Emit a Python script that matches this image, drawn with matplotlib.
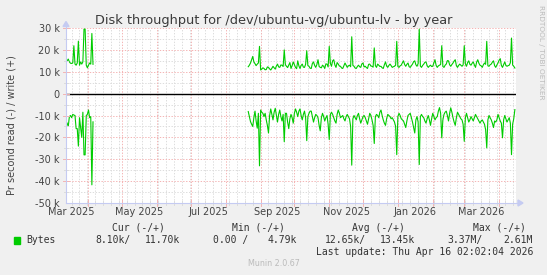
import datetime as dt
import matplotlib
matplotlib.use("Agg")
import matplotlib.pyplot as plt
import matplotlib.dates as mdates
from matplotlib.patches import Rectangle, Polygon
from matplotlib.lines import Line2D

W, H = 547, 275

start = dt.datetime(2025, 3, 12, 2, 2, 4)
end = dt.datetime(2026, 4, 16, 2, 2, 4)

# first stretch of data (one value a day, k bytes per second)
early_write = [14.9, 15.0, 15.8, 14.5, 13.9, 13.8, 14.0, 21.9, 13.5, 13.0,
               14.0, 24.0, 13.0, 14.5, 13.5, 14.5, 29.5, 29.5, 13.0, 11.8,
               13.0, 14.0, 13.5, 27.5, 13.4]
early_read = [-12.8, -13.5, -15.0, -10.5, -10.0, -11.0, -9.5, -9.8, -10.0, -16.0,
              -16.0, -24.0, -11.0, -15.5, -20.0, -8.5, -28.0, -28.0, -10.0, -9.5,
              -7.5, -11.0, -10.5, -41.7, -12.9]

# second stretch, starts in late august, one value a day
late_start_day = 162
late_write = [12.3, 13.0, 14.0, 15.5, 17.0, 14.5, 13.7, 12.8, 13.5, 14.0,
              21.6, 10.8, 11.2, 11.8, 11.5, 10.9, 11.0, 12.2, 12.0, 11.3,
              10.8, 11.6, 12.5, 11.8, 11.2, 12.6, 13.5, 12.2, 12.0, 13.1,
              13.0, 12.4, 20.0, 13.2, 12.5, 11.9, 13.0, 14.2, 11.5, 12.8,
              14.5, 13.2, 12.0, 11.4, 15.0, 12.7, 11.5, 12.9, 13.5, 12.1,
              12.0, 13.4, 19.6, 12.8, 12.5, 11.6, 11.5, 13.8, 14.5, 12.9,
              12.0, 13.3, 15.5, 12.4, 12.0, 11.8, 13.0, 12.5, 11.5, 13.6,
              13.5, 12.2, 21.6, 13.8, 12.5, 15.0, 15.5, 13.1, 12.0, 14.2,
              13.5, 12.6, 12.5, 11.7, 11.5, 12.8, 14.0, 13.0, 12.0, 12.7,
              13.0, 12.3, 26.0, 12.9, 12.5, 11.7, 11.5, 12.4, 13.0, 12.3,
              12.0, 13.6, 14.0, 12.2, 12.5, 11.9, 11.5, 13.4, 13.5, 12.6,
              12.5, 12.1, 20.9, 12.8, 12.0, 13.5, 13.0, 12.4, 12.5, 11.8,
              11.5, 13.2, 14.5, 12.6, 12.0, 12.9, 13.5, 12.8, 12.0, 12.3,
              12.5, 13.0, 23.9, 12.4, 12.0, 12.7, 13.0, 14.1, 15.0, 13.3,
              12.5, 13.4, 14.0, 12.3, 12.0, 12.8, 13.5, 14.6, 15.0, 13.2,
              12.5, 13.7, 29.5, 12.6, 12.0, 12.9, 13.5, 14.3, 14.5, 12.8,
              12.0, 12.6, 13.0, 12.4, 12.5, 14.1, 15.5, 12.9, 12.0, 12.7,
              13.0, 13.3, 21.9, 12.4, 12.0, 13.0, 13.5, 15.1, 15.0, 13.2,
              12.5, 13.3, 14.0, 14.9, 15.5, 12.8, 12.0, 12.9, 13.5, 13.0,
              12.5, 13.1, 21.9, 13.6, 12.5, 14.2, 15.0, 13.4, 13.0, 13.9,
              14.5, 13.1, 12.0, 14.4, 15.5, 13.9, 13.0, 12.7, 12.0, 13.2,
              14.0, 13.4, 23.9, 12.7, 12.5, 13.2, 13.5, 14.4, 15.0, 12.8,
              12.0, 13.1, 14.0, 15.3, 16.0, 12.9, 12.0, 13.3, 14.5, 12.9,
              12.5, 12.8, 13.0, 14.1, 25.4, 13.1, 12.5, 11.7]
late_read = [-8.2, -10.5, -12.8, -14.0, -15.0, -11.0, -8.0, -12.5, -15.8, -9.0,
             -33.0, -7.5, -8.5, -9.0, -10.5, -9.0, -12.0, -14.5, -18.0, -10.0,
             -7.0, -9.5, -12.0, -8.5, -6.7, -10.0, -13.0, -9.5, -7.5, -10.5,
             -12.5, -9.5, -22.0, -9.0, -9.0, -13.0, -16.0, -11.5, -9.5, -11.0,
             -13.5, -9.0, -7.0, -8.5, -10.5, -8.0, -7.0, -10.0, -12.0, -9.5,
             -8.0, -11.0, -21.5, -10.5, -9.0, -8.0, -8.0, -10.5, -13.0, -11.0,
             -9.5, -10.0, -11.0, -14.5, -17.0, -11.0, -9.0, -10.5, -12.5, -11.0,
             -10.0, -14.0, -21.0, -9.5, -8.5, -9.5, -11.0, -12.5, -13.5, -9.5,
             -7.5, -9.0, -11.0, -10.5, -10.0, -11.5, -12.5, -10.5, -9.5, -10.5,
             -11.5, -15.0, -32.7, -11.5, -10.0, -11.0, -12.0, -10.0, -9.0, -11.5,
             -13.5, -12.0, -10.5, -10.0, -11.0, -12.5, -14.0, -11.5, -9.0, -10.0,
             -12.0, -14.5, -22.8, -10.5, -9.5, -10.0, -11.0, -8.5, -7.5, -10.0,
             -12.0, -13.5, -14.5, -11.5, -9.5, -10.0, -10.5, -11.5, -11.0, -12.0,
             -13.0, -15.0, -27.9, -10.5, -9.0, -10.0, -11.5, -12.0, -12.5, -14.0,
             -15.5, -12.5, -10.0, -9.5, -9.0, -11.0, -13.0, -15.5, -18.0, -12.0,
             -10.5, -13.0, -32.4, -10.5, -9.5, -10.5, -11.0, -12.5, -13.5, -11.5,
             -10.0, -12.0, -14.5, -11.5, -9.0, -10.5, -12.0, -11.0, -10.5, -8.0,
             -6.4, -9.0, -20.2, -12.0, -9.5, -8.5, -8.0, -10.0, -12.5, -9.0,
             -6.5, -8.5, -11.0, -13.0, -14.5, -11.0, -8.5, -9.5, -10.5, -11.5,
             -12.0, -14.0, -21.8, -11.0, -9.0, -11.0, -13.0, -12.0, -10.5, -11.5,
             -12.5, -11.0, -9.5, -10.5, -11.5, -12.5, -13.5, -12.5, -12.0, -13.0,
             -14.0, -16.5, -24.8, -12.0, -10.0, -11.0, -12.0, -13.5, -15.5, -12.5,
             -13.0, -12.0, -9.5, -11.0, -12.5, -13.5, -20.2, -12.0, -10.0, -11.5,
             -13.0, -12.0, -11.0, -13.5, -27.9, -14.0, -11.5, -7.3]

y_ticks = [30, 20, 10, 0, -10, -20, -30, -40, -50]
y_labels = ["30 k", "20 k", "10 k", "0", "-10 k", "-20 k", "-30 k", "-40 k", "-50 k"]
x_labels = ["Mar 2025", "May 2025", "Jul 2025", "Sep 2025", "Nov 2025", "Jan 2026", "Mar 2026"]

legend_head = ["Cur (-/+)", "Min (-/+)", "Avg (-/+)", "Max (-/+)"]
legend_vals = ["8.10k/", "11.70k", "0.00 /", "4.79k", "12.65k/", "13.45k", "3.37M/", "2.61M"]

GREEN = "#00CC00"
AXIS_COL = "#C5CBF2"
MAJOR_COL = "#F4B4B4"
MINOR_COL = "#DCDCDC"
TEXT_COL = "#444444"


def fx(px):
    return px / W


def fy(py):
    return 1 - py / H


def add_month(d):
    if d.month == 12:
        return dt.datetime(d.year + 1, 1, 1)
    return dt.datetime(d.year, d.month + 1, 1)


fig = plt.figure(figsize=(W / 100, H / 100), dpi=100, facecolor="#F0F0F0")
ax = fig.add_axes([fx(66), fy(203), 450 / W, 175 / H])
ax.set_facecolor("white")
for s in ax.spines.values():
    s.set_visible(False)

x0 = mdates.date2num(start)
x1 = mdates.date2num(end)
ax.set_xlim(x0, x1)
ax.set_ylim(-50, 30)

dots = (0, (1.4, 1.6))
xt = ax.get_xaxis_transform()
yt = ax.get_yaxis_transform()

# weekly minor grid (mondays)
d = dt.datetime(2025, 3, 17)
while d < end:
    xv = mdates.date2num(d)
    ax.axvline(xv, color=MINOR_COL, lw=0.7, ls=dots, zorder=1)
    ax.plot([xv, xv], [-0.012, 0.012], transform=xt, clip_on=False, color=MINOR_COL, lw=0.7, zorder=5)
    d += dt.timedelta(days=7)

# monthly major grid
d = dt.datetime(2025, 4, 1)
while d < end:
    xv = mdates.date2num(d)
    ax.axvline(xv, color=MAJOR_COL, lw=0.7, ls=dots, zorder=2)
    ax.plot([xv, xv], [-0.015, 0.015], transform=xt, clip_on=False, color=MAJOR_COL, lw=0.7, zorder=5)
    d = add_month(d)

for yv in range(-45, 31, 5):
    if yv % 10 == 0:
        if yv != 0:
            ax.axhline(yv, color=MAJOR_COL, lw=0.7, ls=dots, zorder=2)
        ax.plot([-0.007, 0.007], [yv, yv], transform=yt, clip_on=False, color=MAJOR_COL, lw=0.7, zorder=5)
    else:
        ax.axhline(yv, color=MINOR_COL, lw=0.7, ls=dots, zorder=1)
        ax.plot([-0.005, 0.005], [yv, yv], transform=yt, clip_on=False, color=MINOR_COL, lw=0.7, zorder=5)

ax.axhline(0, color="black", lw=1.0, zorder=3)

# data
early_dates = [start + dt.timedelta(days=i) for i in range(len(early_write))]
late_dates = [start + dt.timedelta(days=late_start_day + i) for i in range(len(late_write))]
ax.plot(early_dates, early_write, color=GREEN, lw=0.8, zorder=4)
ax.plot(early_dates, early_read, color=GREEN, lw=0.8, zorder=4)
ax.plot(late_dates, late_write, color=GREEN, lw=0.8, zorder=4)
ax.plot(late_dates, late_read, color=GREEN, lw=0.8, zorder=4)

# ticks: labels only, grid drawn above
ax.set_yticks(y_ticks, y_labels)
mids = []
for lab in x_labels:
    first = dt.datetime.strptime(lab, "%b %Y")
    mids.append(first + (add_month(first) - first) / 2)
ax.set_xticks(mids, x_labels)
ax.tick_params(axis="y", length=0, pad=4.6, labelsize=7, labelcolor=TEXT_COL)
ax.tick_params(axis="x", length=0, pad=3.2, labelsize=7, labelcolor=TEXT_COL)

# axis lines with arrows
fig.add_artist(Line2D([fx(66), fx(519)], [fy(203), fy(203)], color=AXIS_COL, lw=0.8))
fig.add_artist(Line2D([fx(66), fx(66)], [fy(203), fy(25)], color=AXIS_COL, lw=0.8))
fig.add_artist(Polygon([(fx(518), fy(200)), (fx(518), fy(206)), (fx(523), fy(203))],
                       closed=True, color=AXIS_COL, transform=fig.transFigure))
fig.add_artist(Polygon([(fx(63), fy(26.5)), (fx(69), fy(26.5)), (fx(66), fy(21.5))],
                       closed=True, color=AXIS_COL, transform=fig.transFigure))

# texts
fig.text(fx(274), fy(24.3), "Disk throughput for /dev/ubuntu-vg/ubuntu-lv - by year",
         ha="center", va="baseline", fontsize=9.3, color="#3a3a3a")
fig.text(fx(12), fy(125), "Pr second read (-) / write (+)", rotation=90,
         ha="center", va="center", fontsize=7, color=TEXT_COL)
fig.text(fx(541), fy(52), "RRDTOOL / TOBI OETIKER", rotation=270,
         ha="center", va="center", fontsize=5.3, color="#BBBBBB")

mono = dict(family="DejaVu Sans Mono", fontsize=7, color="#333333", va="center", ha="left")
for lab, px in zip(legend_head, [111.7, 232, 352, 473]):
    fig.text(fx(px), fy(227.7), lab, **mono)
fig.add_artist(Rectangle((fx(14), fy(243.5)), 6 / W, 7 / H, color=GREEN, transform=fig.transFigure))
fig.text(fx(26), fy(240), "Bytes", **mono)
for lab, px in zip(legend_vals, [95, 145, 213, 268, 324.5, 379.6, 447.7, 503.5]):
    fig.text(fx(px), fy(240), lab, **mono)
fig.text(fx(533), fy(251.7), "Last update: Thu Apr 16 02:02:04 2026",
         family="DejaVu Sans Mono", fontsize=7, color="#333333", va="center", ha="right")
fig.text(fx(273.5), fy(263.3), "Munin 2.0.67", ha="center", va="center", fontsize=5.8, color="#BBBBBB")

fig.savefig("out.png", dpi=100, facecolor=fig.get_facecolor())
